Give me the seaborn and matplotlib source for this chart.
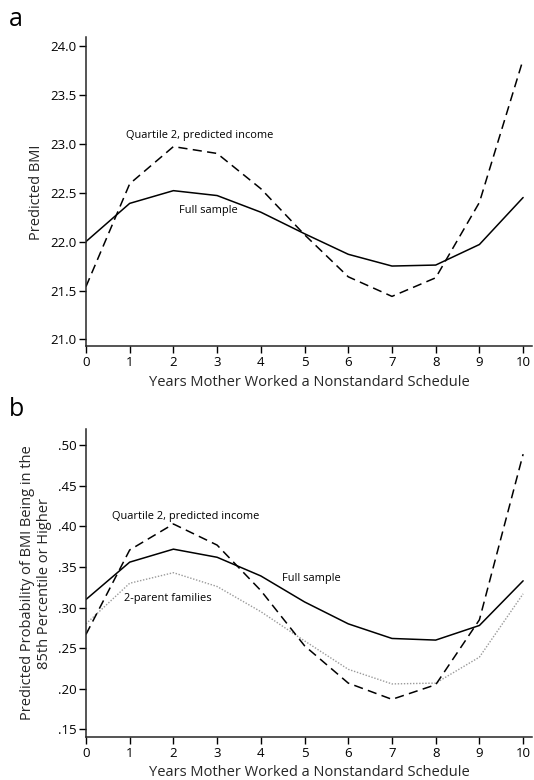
import numpy as np
import pandas as pd
import matplotlib
matplotlib.use("Agg")
import matplotlib.pyplot as plt
import seaborn as sns

# values
years = [0, 1, 2, 3, 4, 5, 6, 7, 8, 9, 10]

bmi_full = [22.00, 22.39, 22.52, 22.47, 22.30, 22.08, 21.87, 21.75, 21.76, 21.97, 22.45]
bmi_q2 = [21.54, 22.59, 22.97, 22.90, 22.54, 22.07, 21.64, 21.44, 21.63, 22.40, 23.86]

prob_full = [0.310, 0.356, 0.372, 0.362, 0.339, 0.307, 0.280, 0.262, 0.260, 0.278, 0.333]
prob_q2 = [0.267, 0.371, 0.403, 0.377, 0.321, 0.253, 0.207, 0.187, 0.205, 0.285, 0.489]
prob_2parent = [0.280, 0.330, 0.343, 0.326, 0.295, 0.259, 0.224, 0.206, 0.207, 0.239, 0.317]

bmi_ticks = [21.0, 21.5, 22.0, 22.5, 23.0, 23.5, 24.0]
prob_ticks = [0.15, 0.20, 0.25, 0.30, 0.35, 0.40, 0.45, 0.50]
prob_ticklabels = [".15", ".20", ".25", ".30", ".35", ".40", ".45", ".50"]

sns.set_style("ticks")
plt.rcParams['font.family'] = ['Open Sans', 'DejaVu Sans']
plt.rcParams['axes.linewidth'] = 1.1
plt.rcParams['xtick.major.width'] = 1.0
plt.rcParams['ytick.major.width'] = 1.0
plt.rcParams['xtick.major.size'] = 5
plt.rcParams['ytick.major.size'] = 5
plt.rcParams['xtick.labelsize'] = 9.5
plt.rcParams['ytick.labelsize'] = 9.5
plt.rcParams['text.color'] = 'black'

df_a = pd.DataFrame({'years': years, 'full': bmi_full, 'q2': bmi_q2})
df_b = pd.DataFrame({'years': years, 'full': prob_full, 'q2': prob_q2, 'two': prob_2parent})

fig = plt.figure(figsize=(5.34, 7.80), dpi=100)
ax1 = fig.add_axes([0.161, 0.556, 0.835, 0.396])
ax2 = fig.add_axes([0.161, 0.055, 0.835, 0.395])

dash = (0, (6, 3.5))
lw = 1.1
note = 7.9

# panel a
sns.lineplot(data=df_a, x='years', y='full', ax=ax1, color='black', lw=lw)
sns.lineplot(data=df_a, x='years', y='q2', ax=ax1, color='black', lw=lw, linestyle=dash)
ax1.set_xlim(0, 10.2)
ax1.set_ylim(20.93, 24.085)
ax1.set_yticks(bmi_ticks)
ax1.set_yticklabels([f"{t:.1f}" for t in bmi_ticks])
ax1.set_xticks(years)
ax1.set_ylabel("Predicted BMI", fontsize=10.5)
ax1.set_xlabel("Years Mother Worked a Nonstandard Schedule", fontsize=10.5, labelpad=4)
ax1.text(0.915, 23.08, "Quartile 2, predicted income", fontsize=note, va='center', ha='left')
ax1.text(2.13, 22.32, "Full sample", fontsize=note, va='center', ha='left')

# panel b
sns.lineplot(data=df_b, x='years', y='two', ax=ax2, color='#9a9a9a', lw=1.0, linestyle=(0, (1, 1.2)))
sns.lineplot(data=df_b, x='years', y='full', ax=ax2, color='black', lw=lw)
sns.lineplot(data=df_b, x='years', y='q2', ax=ax2, color='black', lw=lw, linestyle=dash)
ax2.set_xlim(0, 10.2)
ax2.set_ylim(0.1405, 0.52)
ax2.set_yticks(prob_ticks)
ax2.set_yticklabels(prob_ticklabels)
ax2.set_xticks(years)
ax2.set_ylabel("Predicted Probability of BMI Being in the\n85th Percentile or Higher", fontsize=10.5)
ax2.set_xlabel("Years Mother Worked a Nonstandard Schedule", fontsize=10.5, labelpad=4)
ax2.text(0.60, 0.412, "Quartile 2, predicted income", fontsize=note, va='center', ha='left')
ax2.text(4.49, 0.336, "Full sample", fontsize=note, va='center', ha='left')
ax2.text(0.87, 0.311, "2-parent families", fontsize=note, va='center', ha='left')

for ax in (ax1, ax2):
    sns.despine(ax=ax)
    ax.tick_params(direction='out', pad=2, colors='black')

fig.text(0.017, 0.967, "a", fontsize=18)
fig.text(0.017, 0.467, "b", fontsize=18)

fig.savefig("out.png", dpi=100)
